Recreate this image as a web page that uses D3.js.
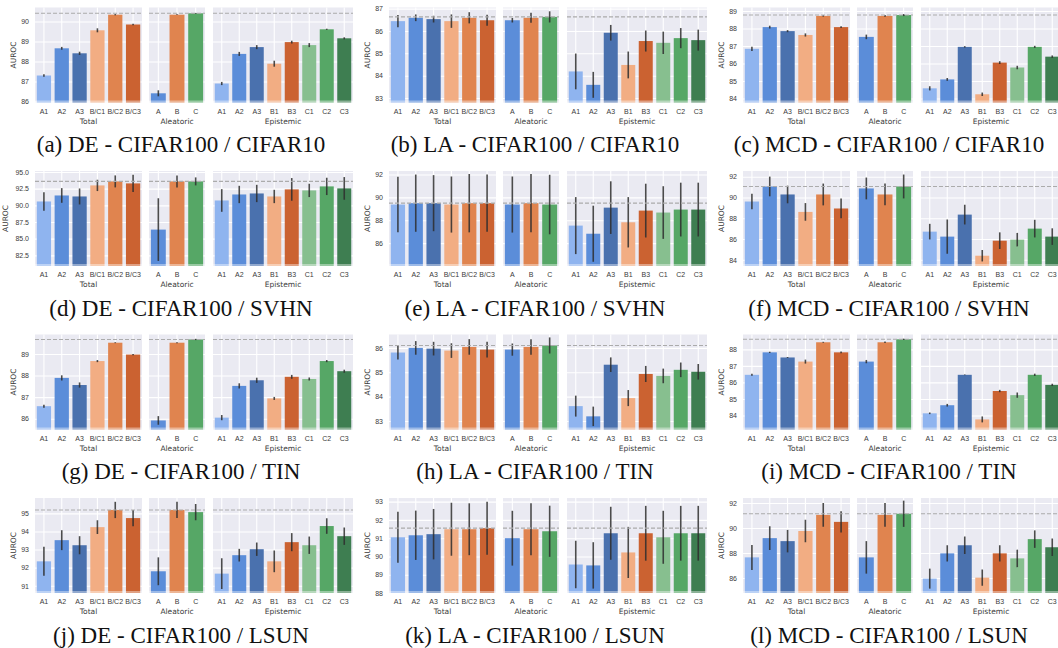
<!DOCTYPE html>
<html>
<head>
<meta charset="utf-8">
<script src="https://cdnjs.cloudflare.com/ajax/libs/d3/7.8.5/d3.min.js"></script>
<style>
body { margin: 0; background: #fff; }
</style>
</head>
<body>
<div id="chart"></div>
<script>
// categories of the three sub plots
var totalLabels = ["A1", "A2", "A3", "B/C1", "B/C2", "B/C3"];
var aleatoricLabels = ["A", "B", "C"];
var epistemicLabels = ["A1", "A2", "A3", "B1", "B3", "C1", "C2", "C3"];

var panelTitles = [
	"(a) DE - CIFAR100 / CIFAR10", "(b) LA - CIFAR100 / CIFAR10", "(c) MCD - CIFAR100 / CIFAR10",
	"(d) DE - CIFAR100 / SVHN", "(e) LA - CIFAR100 / SVHN", "(f) MCD - CIFAR100 / SVHN",
	"(g) DE - CIFAR100 / TIN", "(h) LA - CIFAR100 / TIN", "(i) MCD - CIFAR100 / TIN",
	"(j) DE - CIFAR100 / LSUN", "(k) LA - CIFAR100 / LSUN", "(l) MCD - CIFAR100 / LSUN"
];

var totalValues = [
	[87.30, 88.66, 88.41, 89.56, 90.34, 89.85],
	[86.44, 86.59, 86.53, 86.44, 86.59, 86.48],
	[86.84, 88.08, 87.85, 87.63, 88.72, 88.08],
	[90.58, 91.48, 91.33, 92.99, 93.59, 93.29],
	[89.37, 89.49, 89.49, 89.37, 89.49, 89.49],
	[89.61, 91.06, 90.29, 88.61, 90.29, 88.94],
	[86.58, 87.89, 87.56, 88.67, 89.52, 88.97],
	[85.81, 86.00, 85.97, 85.89, 86.04, 85.93],
	[86.46, 87.82, 87.51, 87.26, 88.43, 87.82],
	[92.35, 93.52, 93.24, 94.24, 95.19, 94.74],
	[91.05, 91.16, 91.22, 91.49, 91.49, 91.55],
	[87.65, 89.19, 88.95, 89.76, 91.05, 90.49]
];
var totalErrors = [
	[0.06, 0.07, 0.08, 0.10, 0.03, 0.04],
	[0.27, 0.15, 0.15, 0.30, 0.25, 0.25],
	[0.12, 0.08, 0.06, 0.09, 0.04, 0.05],
	[1.40, 1.10, 1.20, 0.85, 0.90, 1.30],
	[2.43, 2.50, 2.45, 2.45, 2.55, 2.50],
	[0.75, 0.95, 0.85, 0.85, 1.05, 0.95],
	[0.07, 0.12, 0.12, 0.05, 0.02, 0.03],
	[0.29, 0.28, 0.28, 0.30, 0.32, 0.32],
	[0.06, 0.04, 0.03, 0.12, 0.03, 0.05],
	[0.80, 0.55, 0.50, 0.38, 0.45, 0.45],
	[1.40, 1.35, 1.38, 1.45, 1.42, 1.45],
	[1.00, 0.95, 0.90, 0.90, 0.95, 0.85]
];

var aleatoricValues = [
	[86.41, 90.34, 90.41],
	[86.48, 86.59, 86.63],
	[87.52, 88.72, 88.77],
	[86.36, 93.59, 93.59],
	[89.37, 89.49, 89.37],
	[90.87, 90.29, 91.06],
	[85.92, 89.52, 89.67],
	[85.93, 86.04, 86.10],
	[87.26, 88.43, 88.61],
	[91.80, 95.19, 95.07],
	[91.00, 91.49, 91.38],
	[87.65, 91.05, 91.14]
];
var aleatoricErrors = [
	[0.15, 0.02, 0.02],
	[0.10, 0.22, 0.25],
	[0.13, 0.05, 0.06],
	[4.70, 0.90, 0.60],
	[2.45, 2.55, 2.60],
	[1.05, 1.05, 1.15],
	[0.20, 0.02, 0.03],
	[0.25, 0.32, 0.33],
	[0.10, 0.04, 0.04],
	[0.77, 0.45, 0.45],
	[1.50, 1.42, 1.40],
	[1.30, 0.95, 1.05]
];

var epistemicValues = [
	[86.90, 88.38, 88.72, 87.89, 88.97, 88.82, 89.61, 89.16],
	[84.19, 83.59, 85.92, 84.48, 85.55, 85.47, 85.68, 85.59],
	[84.58, 85.09, 86.95, 84.24, 86.05, 85.77, 86.95, 86.39],
	[90.73, 91.63, 91.78, 91.33, 92.39, 92.24, 92.84, 92.54],
	[87.53, 86.82, 89.10, 87.82, 88.84, 88.67, 88.93, 88.93],
	[86.71, 86.23, 88.35, 84.39, 85.84, 85.94, 87.00, 86.23],
	[86.05, 87.52, 87.78, 86.94, 87.94, 87.84, 88.67, 88.20],
	[83.61, 83.19, 85.31, 83.94, 84.93, 84.85, 85.10, 85.02],
	[84.13, 84.62, 86.46, 83.76, 85.48, 85.23, 86.46, 85.85],
	[91.67, 92.69, 93.02, 92.35, 93.41, 93.24, 94.30, 93.74],
	[89.56, 89.51, 91.27, 90.22, 91.27, 91.05, 91.27, 91.27],
	[85.95, 87.97, 88.62, 86.03, 87.97, 87.57, 89.11, 88.46]
];
var epistemicErrors = [
	[0.08, 0.10, 0.10, 0.15, 0.07, 0.10, 0.03, 0.05],
	[0.80, 0.58, 0.35, 0.60, 0.47, 0.50, 0.45, 0.47],
	[0.12, 0.08, 0.04, 0.10, 0.08, 0.10, 0.06, 0.07],
	[1.70, 1.30, 1.30, 1.00, 1.70, 1.00, 1.30, 1.70],
	[2.49, 2.45, 2.30, 2.20, 2.35, 2.30, 2.35, 2.35],
	[0.75, 1.65, 0.95, 0.55, 0.80, 0.65, 0.85, 0.80],
	[0.12, 0.12, 0.12, 0.07, 0.09, 0.07, 0.05, 0.07],
	[0.43, 0.40, 0.30, 0.33, 0.33, 0.30, 0.30, 0.32],
	[0.05, 0.08, 0.02, 0.18, 0.07, 0.16, 0.07, 0.07],
	[0.85, 0.35, 0.37, 0.60, 0.50, 0.48, 0.43, 0.48],
	[1.30, 1.27, 1.45, 1.40, 1.50, 1.45, 1.50, 1.50],
	[0.80, 0.65, 0.70, 0.65, 0.65, 0.70, 0.70, 0.70]
];

// y axis extents and tick labels
var yDomains = [
	[85.95, 90.7], [82.8, 87.05], [83.77, 89.2],
	[80.9, 95.15], [84.0, 92.3], [83.4, 92.55],
	[85.5, 89.9], [82.65, 86.55], [83.15, 88.9],
	[90.6, 95.85], [88.0, 93.2], [84.8, 92.4]
];
var yTicks = [
	[86, 87, 88, 89, 90], [83, 84, 85, 86, 87], [84, 85, 86, 87, 88, 89],
	[82.5, 85, 87.5, 90, 92.5, 95], [86, 88, 90, 92], [84, 86, 88, 90, 92],
	[86, 87, 88, 89], [83, 84, 85, 86], [84, 85, 86, 87, 88],
	[91, 92, 93, 94, 95], [88, 89, 90, 91, 92, 93], [86, 88, 90, 92]
];

var blues = ["#8fb4ef", "#5b8dd9", "#4a71ae"];
var oranges = ["#f2ad83", "#e0844f", "#cb6231"];
var greens = ["#87bf8f", "#56a766", "#3e7e51"];
var totalColors = [blues[0], blues[1], blues[2], oranges[0], oranges[1], oranges[2]];
var aleatoricColors = [blues[1], oranges[1], greens[1]];
var epistemicColors = [blues[0], blues[1], blues[2], oranges[0], oranges[2], greens[0], greens[1], greens[2]];

var svg = d3.select("#chart")
	.append("svg")
	.attr("width", 1058)
	.attr("height", 648)
	.style("font-family", "DejaVu Sans");

var plotH = 95;

function draw_sub(g, grp, y, ticks, fmt, ref, showY){
	var w = grp.w;
	var sub = g.append("g").attr("transform", "translate(" + grp.x0 + ",0)");

	sub.append("rect")
		.attr("width", w)
		.attr("height", plotH)
		.attr("fill", "#eaeaf2");

	var x = d3.scaleBand()
		.domain(grp.labels)
		.range([0, w])
		.paddingInner(0.2)
		.paddingOuter(0.1);

	// horizontal grid + y tick labels
	var ya = sub.append("g")
		.call(d3.axisLeft(y).tickValues(ticks).tickSize(-w).tickPadding(6)
			.tickFormat(showY ? d3.format(fmt) : ""));
	ya.select(".domain").remove();
	ya.selectAll("line").attr("stroke", "#fff").attr("stroke-width", 1.1);
	ya.selectAll("text").style("font-size", "7px").attr("fill", "#3a3a3a");

	// vertical grid + category labels
	var xa = sub.append("g")
		.attr("transform", "translate(0," + plotH + ")")
		.call(d3.axisBottom(x).tickSize(-plotH).tickPadding(6.5));
	xa.select(".domain").remove();
	xa.selectAll("line").attr("stroke", "#fff").attr("stroke-width", 1.1);
	xa.selectAll("text").style("font-size", "7px").attr("fill", "#3a3a3a");

	sub.append("text")
		.attr("x", w / 2)
		.attr("y", plotH + 21)
		.attr("text-anchor", "middle")
		.style("font-size", "7.5px")
		.attr("fill", "#3a3a3a")
		.text(grp.name);

	var rows = grp.labels.map(function(l, i){
		return {key: l, v: grp.values[i], e: grp.errors[i], c: grp.colors[i]};
	});

	sub.selectAll("rect.bar")
		.data(rows)
		.enter()
		.append("rect")
		.attr("class", "bar")
		.attr("x", function(d){ return x(d.key); })
		.attr("width", x.bandwidth())
		.attr("y", function(d){ return y(d.v); })
		.attr("height", function(d){ return plotH - y(d.v); })
		.attr("fill", function(d){ return d.c; });

	// light band at the lower edge
	sub.append("rect")
		.attr("y", plotH - 2)
		.attr("width", w)
		.attr("height", 2)
		.attr("fill", "#fff")
		.attr("opacity", 0.4);

	sub.selectAll("line.err")
		.data(rows)
		.enter()
		.append("line")
		.attr("class", "err")
		.attr("x1", function(d){ return x(d.key) + x.bandwidth() / 2; })
		.attr("x2", function(d){ return x(d.key) + x.bandwidth() / 2; })
		.attr("y1", function(d){ return y(d.v - d.e); })
		.attr("y2", function(d){ return y(d.v + d.e); })
		.attr("stroke", "#2e2e2e")
		.attr("stroke-width", 1.6)
		.attr("opacity", 0.85);

	sub.append("line")
		.attr("x1", 0)
		.attr("x2", w)
		.attr("y1", y(ref))
		.attr("y2", y(ref))
		.attr("stroke", "#ababab")
		.attr("stroke-width", 1.1)
		.attr("stroke-dasharray", "4,2");
}

function draw_panel(idx){
	var col = idx % 3, row = Math.floor(idx / 3);
	var left = 35 + 354 * col, top = 7.5 + 163.5 * row;
	var g = svg.append("g").attr("transform", "translate(" + left + "," + top + ")");

	var y = d3.scaleLinear().domain(yDomains[idx]).range([plotH, 0]);
	var ticks = yTicks[idx];
	var fmt = ticks.some(function(t){ return t % 1 != 0; }) ? ".1f" : "d";
	var ref = d3.max(totalValues[idx].concat(aleatoricValues[idx], epistemicValues[idx]));

	var groups = [
		{name: "Total", labels: totalLabels, colors: totalColors, values: totalValues[idx], errors: totalErrors[idx], x0: 0, w: 107},
		{name: "Aleatoric", labels: aleatoricLabels, colors: aleatoricColors, values: aleatoricValues[idx], errors: aleatoricErrors[idx], x0: 114, w: 56},
		{name: "Epistemic", labels: epistemicLabels, colors: epistemicColors, values: epistemicValues[idx], errors: epistemicErrors[idx], x0: 178, w: 140}
	];
	groups.forEach(function(grp, gi){
		draw_sub(g, grp, y, ticks, fmt, ref, gi == 0);
	});

	var maxLen = d3.max(ticks, function(t){ return d3.format(fmt)(t).length; });
	var lx = -(14 + 3.8 * maxLen);
	g.append("text")
		.attr("transform", "translate(" + lx + "," + (plotH / 2) + ") rotate(-90)")
		.attr("text-anchor", "middle")
		.attr("dy", "0.35em")
		.style("font-size", "7.5px")
		.attr("fill", "#3a3a3a")
		.text("AUROC");

	svg.append("text")
		.attr("x", 181 + 354 * col)
		.attr("y", 152 + 163.5 * row)
		.attr("text-anchor", "middle")
		.style("font-family", "Liberation Serif")
		.style("font-size", "23px")
		.attr("fill", "#111")
		.text(panelTitles[idx]);
}

for (var i = 0; i < panelTitles.length; i++){
	draw_panel(i);
}
</script>
</body>
</html>
